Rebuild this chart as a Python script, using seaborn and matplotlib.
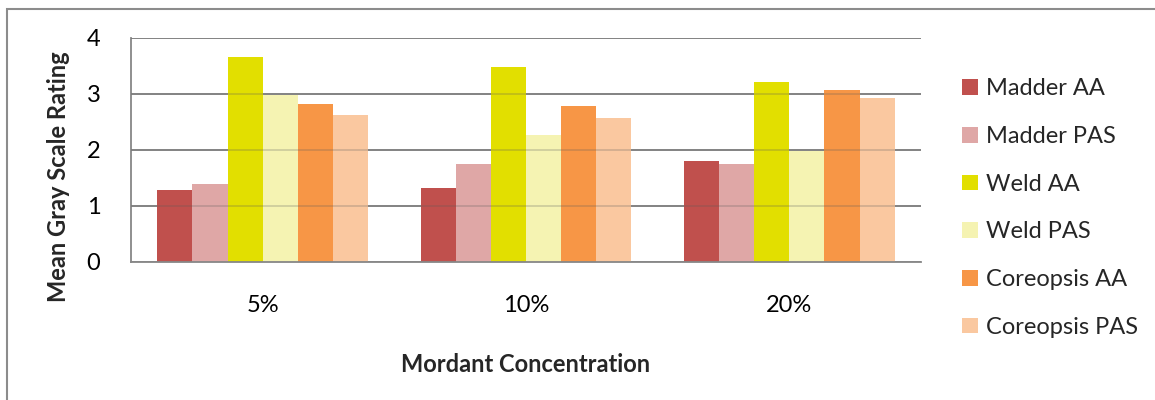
import matplotlib
matplotlib.use("Agg")
import matplotlib.pyplot as plt
from matplotlib.patches import Rectangle
import seaborn as sns
import pandas as pd

concentrations = ["5%", "10%", "20%"]
series = ["Madder AA", "Madder PAS", "Weld AA", "Weld PAS", "Coreopsis AA", "Coreopsis PAS"]
madder_aa = [1.28, 1.33, 1.80]
madder_pas = [1.39, 1.75, 1.75]
weld_aa = [3.66, 3.49, 3.21]
weld_pas = [2.99, 2.27, 1.98]
coreopsis_aa = [2.82, 2.78, 3.07]
coreopsis_pas = [2.63, 2.58, 2.93]
colors = ["#C0504D", "#DFA7A6", "#E2DF00", "#F5F3B2", "#F79646", "#FAC8A0"]
y_ticks = [0, 1, 2, 3, 4]

values = [madder_aa, madder_pas, weld_aa, weld_pas, coreopsis_aa, coreopsis_pas]
rows = []
for name, vals in zip(series, values):
    for conc, v in zip(concentrations, vals):
        rows.append({"Mordant Concentration": conc, "Series": name, "Rating": v})
df = pd.DataFrame(rows)

sns.set_theme(style="white")
plt.rcParams["font.family"] = ["Lato", "DejaVu Sans"]

fs = 17

fig = plt.figure(figsize=(11.55, 4.0), dpi=100)
ax = fig.add_axes([131 / 1155, 1 - 262 / 400, (921 - 131) / 1155, (262 - 38) / 400])

grid_color = "#878787"
ax.set_axisbelow(True)
ax.yaxis.grid(True, color=grid_color, linewidth=1.3)

sns.barplot(data=df, x="Mordant Concentration", y="Rating", hue="Series",
            order=concentrations, hue_order=series, palette=colors,
            width=0.8, saturation=1, edgecolor="none", ax=ax, legend=True)

# faint gridlines showing through the bars
for t in y_ticks[1:]:
    ax.axhline(t, color="#5a5a5a", linewidth=1.3, alpha=0.25, zorder=5)

ax.set_ylim(0, 4)
ax.set_yticks(y_ticks)
ax.set_xlim(-0.5, 2.5)
ax.tick_params(axis="y", length=0, pad=22, labelsize=fs, colors="black")
ax.tick_params(axis="x", length=0, pad=24, labelsize=fs, colors="black")

for side in ["top", "right"]:
    ax.spines[side].set_visible(False)
for side in ["left", "bottom"]:
    ax.spines[side].set_color(grid_color)
    ax.spines[side].set_linewidth(1.3)

ax.set_xlabel("Mordant Concentration", fontsize=fs, fontweight="bold")
ax.set_ylabel("Mean Gray Scale Rating", fontsize=fs, fontweight="bold")
ax.xaxis.set_label_coords(0.5, -(365 - 262) / 224, transform=ax.transAxes)
ax.xaxis.label.set_va("center")
ax.yaxis.set_label_coords(-(131 - 59) / 790, (262 - 177) / 224, transform=ax.transAxes)
ax.yaxis.label.set_va("center")

leg = ax.legend(loc="upper left", bbox_to_anchor=(953 / 1155, 1 - 69 / 400),
                bbox_transform=fig.transFigure, frameon=False, fontsize=fs,
                handlelength=0.65, handleheight=0.65, handletextpad=0.35,
                labelspacing=1.13, borderaxespad=0)

# outer chart frame
fig.patches.append(Rectangle((7 / 1155, -0.05), 1.2, 1 - 9 / 400 + 0.05,
                             transform=fig.transFigure, fill=False,
                             edgecolor="#8c8c8c", linewidth=1.5))

fig.savefig("out.png", dpi=100)
